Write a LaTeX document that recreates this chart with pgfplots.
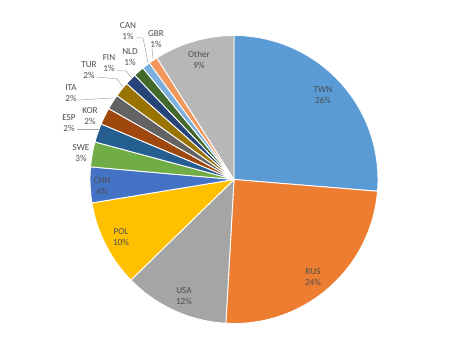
\documentclass[border=0pt]{standalone}
\usepackage{fontspec}
\setmainfont{Carlito}
\usepackage{pgfplots}
\usepackage{pgfplotstable}
\pgfplotsset{compat=1.18}
\definecolor{c0}{HTML}{5B9BD5}
\definecolor{c1}{HTML}{ED7D31}
\definecolor{c2}{HTML}{A5A5A5}
\definecolor{c3}{HTML}{FFC000}
\definecolor{c4}{HTML}{4472C4}
\definecolor{c5}{HTML}{70AD47}
\definecolor{c6}{HTML}{255E91}
\definecolor{c7}{HTML}{9E480E}
\definecolor{c8}{HTML}{636363}
\definecolor{c9}{HTML}{997300}
\definecolor{c10}{HTML}{264478}
\definecolor{c11}{HTML}{43682B}
\definecolor{c12}{HTML}{7CAFDD}
\definecolor{c13}{HTML}{F1975A}
\definecolor{c14}{HTML}{B7B7B7}
\definecolor{txt}{HTML}{4D4D4D}
\definecolor{lead}{HTML}{A6A6A6}
% share of each country (percent), clockwise from 12 o'clock
\pgfplotstableread{
name val
TWN 26.3
RUS 24.6
USA 11.8
POL 9.7
CHN 4.0
SWE 2.8
ESP 2.1
KOR 1.9
ITA 1.7
TUR 1.7
FIN 1.3
NLD 1.2
CAN 0.9
GBR 1.0
Other 9.0
}\piedata
\begin{document}
\begin{tikzpicture}
\begin{axis}[
  scale only axis, width=468bp, height=359bp,
  xmin=0, xmax=468, ymin=0, ymax=359,
  enlargelimits=false, hide axis, clip=false,
]
\path (axis cs:0,0) rectangle (axis cs:468,359);
\gdef\cum{90}
\pgfplotsforeachungrouped \i in {0,...,14}{%
  \pgfplotstablegetelem{\i}{val}\of\piedata
  \let\v\pgfplotsretval
  \pgfmathsetmacro\ea{\cum-3.6*\v}%
  \edef\cmd{\noexpand\fill[fill=c\i, draw=white, line width=0.9pt, line join=round]
    (axis cs:234,179.5) -- ++(\cum:144bp) arc[start angle=\cum, end angle=\ea, radius=144bp] -- cycle;}%
  \cmd
  \global\let\cum\ea
}
% leader lines
\draw[lead, line width=0.5pt] (axis cs:77,230) -- (axis cs:100,230);
\draw[lead, line width=0.5pt] (axis cs:78,259) -- (axis cs:113,261);
\draw[lead, line width=0.5pt] (axis cs:97,282) -- (axis cs:117,280) -- (axis cs:123,272);
\draw[lead, line width=0.5pt] (axis cs:117,288) -- (axis cs:126,288) -- (axis cs:132,281);
\draw[lead, line width=0.5pt] (axis cs:136,321) -- (axis cs:143,321) -- (axis cs:148,296);
\draw[lead, line width=0.5pt] (axis cs:152,311) -- (axis cs:153,300);
% labels
\tikzset{lbl/.style={align=center, text=txt, inner sep=0pt, font=\fontsize{9.2}{11.3}\selectfont}}
\node[lbl] at (axis cs:323,264) {TWN\\26\%};
\node[lbl] at (axis cs:313,82) {RUS\\24\%};
\node[lbl] at (axis cs:184,63) {USA\\12\%};
\node[lbl] at (axis cs:121,122) {POL\\10\%};
\node[lbl] at (axis cs:102,173) {CHN\\4\%};
\node[lbl] at (axis cs:81,206) {SWE\\3\%};
\node[lbl] at (axis cs:69,236) {ESP\\2\%};
\node[lbl] at (axis cs:90,243) {KOR\\2\%};
\node[lbl] at (axis cs:71,266) {ITA\\2\%};
\node[lbl] at (axis cs:89,289) {TUR\\2\%};
\node[lbl] at (axis cs:109,296) {FIN\\1\%};
\node[lbl] at (axis cs:130,302) {NLD\\1\%};
\node[lbl] at (axis cs:128,328) {CAN\\1\%};
\node[lbl] at (axis cs:156,320) {GBR\\1\%};
\node[lbl] at (axis cs:199,299) {Other\\9\%};
\end{axis}
\end{tikzpicture}
\end{document}
